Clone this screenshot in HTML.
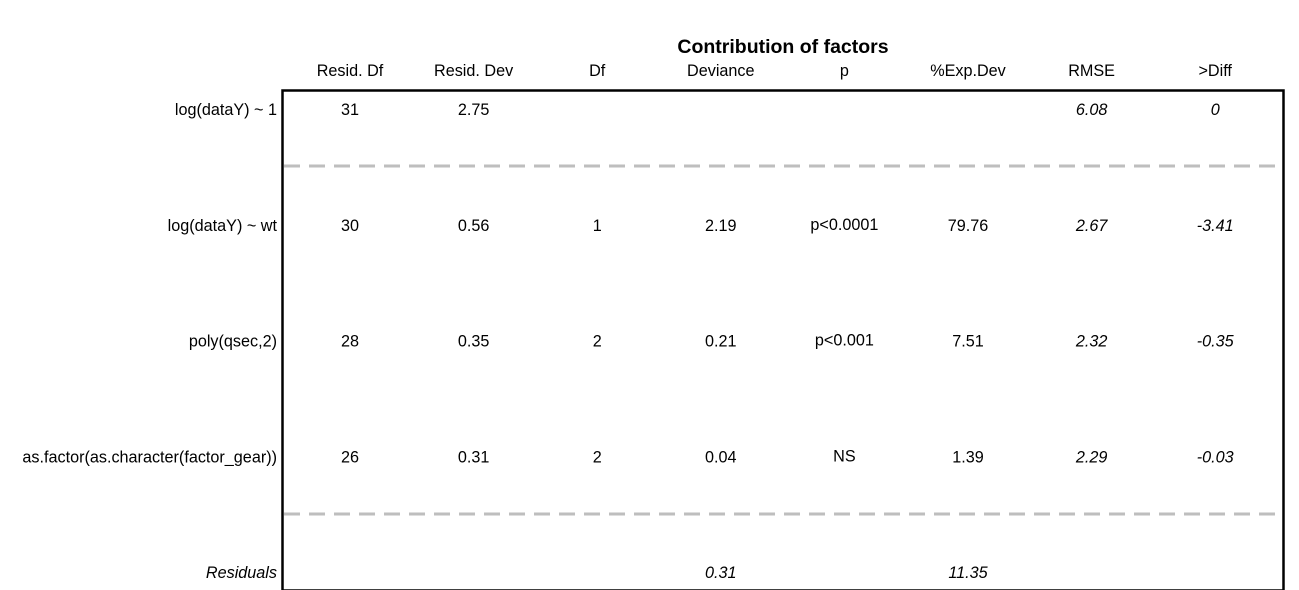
<!DOCTYPE html>
<html><head><meta charset="utf-8"><style>
html,body{margin:0;padding:0;background:#fff;}
svg{display:block;font-family:"Liberation Sans",Arial,sans-serif;}
</style></head><body>
<svg id="chart" width="1299" height="590" viewBox="0 0 1299 590" xmlns="http://www.w3.org/2000/svg">
<text x="783" y="53" text-anchor="middle" font-size="19.5" font-weight="bold">Contribution of factors</text>
<rect x="282.5" y="90.5" width="1001" height="500" fill="none" stroke="#000" stroke-width="2.5"/>
<line x1="284" y1="166" x2="1283" y2="166" stroke="#bebebe" stroke-width="3" stroke-dasharray="16,9"/>
<line x1="284" y1="514" x2="1283" y2="514" stroke="#bebebe" stroke-width="3" stroke-dasharray="16,9"/>
<g id="cells"></g>
</svg>
<script>
const columns = ["Resid. Df","Resid. Dev","Df","Deviance","p","%Exp.Dev","RMSE",">Diff"];
const rowLabels = ["log(dataY) ~ 1","log(dataY) ~ wt","poly(qsec,2)","as.factor(as.character(factor_gear))","Residuals"];
const row0 = ["31","2.75","","","","","6.08","0"];
const row1 = ["30","0.56","1","2.19","p<0.0001","79.76","2.67","-3.41"];
const row2 = ["28","0.35","2","0.21","p<0.001","7.51","2.32","-0.35"];
const row3 = ["26","0.31","2","0.04","NS","1.39","2.29","-0.03"];
const row4 = ["","","","0.31","","11.35","",""];
const rows = [row0,row1,row2,row3,row4];

const NS = "http://www.w3.org/2000/svg";
const g = document.getElementById('cells');
const colX = i => 350 + i * 123.6;
const rowY = i => 115 + i * 115.8;
function txt(x, y, s, anchor, italic) {
  const t = document.createElementNS(NS, 'text');
  t.setAttribute('x', x); t.setAttribute('y', y);
  t.setAttribute('text-anchor', anchor);
  t.setAttribute('font-size', '16.2');
  if (italic) t.setAttribute('font-style', 'italic');
  t.textContent = s;
  g.appendChild(t);
  return t;
}
columns.forEach((c, i) => {
  const t = txt(colX(i), 76, c, 'middle', false);
  
  
});
rowLabels.forEach((r, j) => {
  const t = txt(277, rowY(j), r, 'end', j === 4);
  
  
});
rows.forEach((row, j) => {
  row.forEach((v, i) => {
    if (v === "") return;
    const italic = (i >= 6) || j === 4;
    const t = txt(colX(i), rowY(j) + (i === 4 ? -1 : 0), v, 'middle', italic);
    
    
  });
});
</script>
</body></html>
